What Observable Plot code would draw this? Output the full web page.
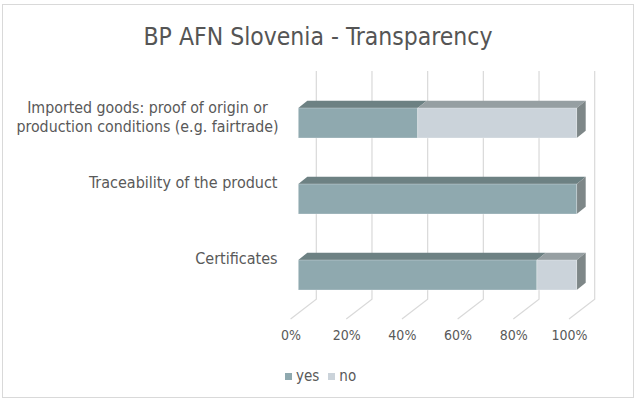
<!DOCTYPE html>
<html><head><meta charset="utf-8">
<script src="https://cdn.jsdelivr.net/npm/d3@7"></script>
<script src="https://cdn.jsdelivr.net/npm/@observablehq/plot@0.6"></script>
<style>
body{margin:0;background:#fff;}
#wrap{position:relative;width:636px;height:400px;font-family:"DejaVu Sans Condensed","DejaVu Sans",sans-serif;font-stretch:condensed;color:#595959;overflow:hidden;}
#frame{position:absolute;left:2px;top:4px;width:630px;height:392px;border:1px solid #d9d9d9;}
#title{position:absolute;left:0;width:636px;top:21px;text-align:center;font-size:24.5px;line-height:32px;color:#555555;}
#legend{position:absolute;top:366px;left:285px;font-size:15px;line-height:20px;display:flex;align-items:center;}
#legend .sw{display:inline-block;width:7px;height:7px;margin-right:4px;}
#legend .it{display:flex;align-items:center;margin-right:9px;}
#chart{position:absolute;left:0;top:0;}
</style></head><body>
<div id="wrap"><div id="frame"></div><div id="chart"></div><div id="title">BP AFN Slovenia - Transparency</div><div id="legend"></div></div>
<script>
// ---- data ----
const categories = [
  "Imported goods: proof of origin or\nproduction conditions (e.g. fairtrade)",
  "Traceability of the product",
  "Certificates"
];
const seriesNames = ["yes", "no"];
const yesValues = [42.9, 100, 85.7];
const noValues = [57.1, 0, 14.3];
const xTicks = [0, 20, 40, 60, 80, 100];
const tickLabels = ["0%", "20%", "40%", "60%", "80%", "100%"];

// ---- styles ----
const faceColors = {
  yes: {front: "#8fa9af", top: "#6d8183", side: "#7e8788"},
  no:  {front: "#cbd3da", top: "#969fa2", side: "#7e8788"}
};
const gridColor = "#d9d9d9";
const DX = 9, DY = -7.3;          // bar depth offset
const WALL_DX = 18, FLOOR_DX = -7.7; // grid wall / floor offsets
const GRID_TOP = 71, GRID_BEND = 299.3, GRID_FLOOR = 319;

// build stacked rows
const rows = [];
categories.forEach((c, i) => {
  let acc = 0;
  [yesValues[i], noValues[i]].forEach((v, j) => {
    rows.push({category: c, series: seriesNames[j], value: v, x1: acc, x2: acc + v});
    acc += v;
  });
});
const drawn = rows.filter(r => r.value > 0);

function getScales(args) {
  return args.find(a => a && typeof a.x === "function" && typeof a.y === "function");
}

function gridMark(...args) {
  const s = getScales(args);
  const g = d3.create("svg:g");
  for (const t of xTicks) {
    const X = s.x(t);
    g.append("path")
      .attr("d", `M${X + WALL_DX},${GRID_TOP}L${X + WALL_DX},${GRID_BEND}L${X + FLOOR_DX},${GRID_FLOOR}`)
      .attr("fill", "none").attr("stroke", gridColor).attr("stroke-width", 1.2);
  }
  return g.node();
}

function depthMark(...args) {
  const s = getScales(args);
  const bw = typeof s.y.bandwidth === "function" ? s.y.bandwidth() : s.y.bandwidth;
  const g = d3.create("svg:g");
  for (const r of drawn) {
    const xa = s.x(r.x1), xb = s.x(r.x2), y0 = s.y(r.category), y1 = y0 + bw;
    g.append("path")
      .attr("d", `M${xa},${y0}L${xb},${y0}L${xb + DX},${y0 + DY}L${xa + DX},${y0 + DY}Z`)
      .attr("fill", faceColors[r.series].top);
    if (r.x2 >= 100) {
      g.append("path")
        .attr("d", `M${xb},${y0}L${xb + DX},${y0 + DY}L${xb + DX},${y1 + DY}L${xb},${y1}Z`)
        .attr("fill", faceColors[r.series].side);
    }
  }
  return g.node();
}

const single = categories.filter(c => !c.includes("\n"));
const multi = categories.filter(c => c.includes("\n"));

const chart = Plot.plot({
  width: 636,
  height: 400,
  marginLeft: 298.3,
  marginRight: 59.3,
  marginTop: 60,
  marginBottom: 61,
  style: {fontFamily: '"DejaVu Sans Condensed","DejaVu Sans",sans-serif', fontSize: "15px", color: "#595959", background: "transparent", overflow: "visible", fontStretch: "condensed"},
  x: {domain: [0, 100], axis: null},
  y: {domain: categories, range: [62.4, 336], padding: 0.6, axis: null},
  marks: [
    gridMark,
    depthMark,
    Plot.barX(drawn, {x1: "x1", x2: "x2", y: "category", fill: d => faceColors[d.series].front, stroke: "#ffffff", strokeOpacity: 0.35, strokeWidth: 0.8}),
    Plot.text(xTicks, {x: d => d, text: (d, i) => tickLabels[i], frameAnchor: "bottom", dx: -7.8, fontSize: 14}),
    Plot.text(single, {y: d => d, x: () => 0, text: d => d, textAnchor: "end", dx: -21.3, dy: -17, fontSize: 16}),
    Plot.text(multi, {y: d => d, x: () => 0, text: d => d, textAnchor: "middle", dx: -151.3, dy: -6.6, lineHeight: 1.2, fontSize: 15.8})
  ]
});
document.getElementById("chart").appendChild(chart);

const legend = document.getElementById("legend");
seriesNames.forEach(n => {
  const it = document.createElement("span");
  it.className = "it";
  it.innerHTML = `<span class="sw" style="background:${faceColors[n].front}"></span>${n}`;
  legend.appendChild(it);
});
</script>
</body></html>
